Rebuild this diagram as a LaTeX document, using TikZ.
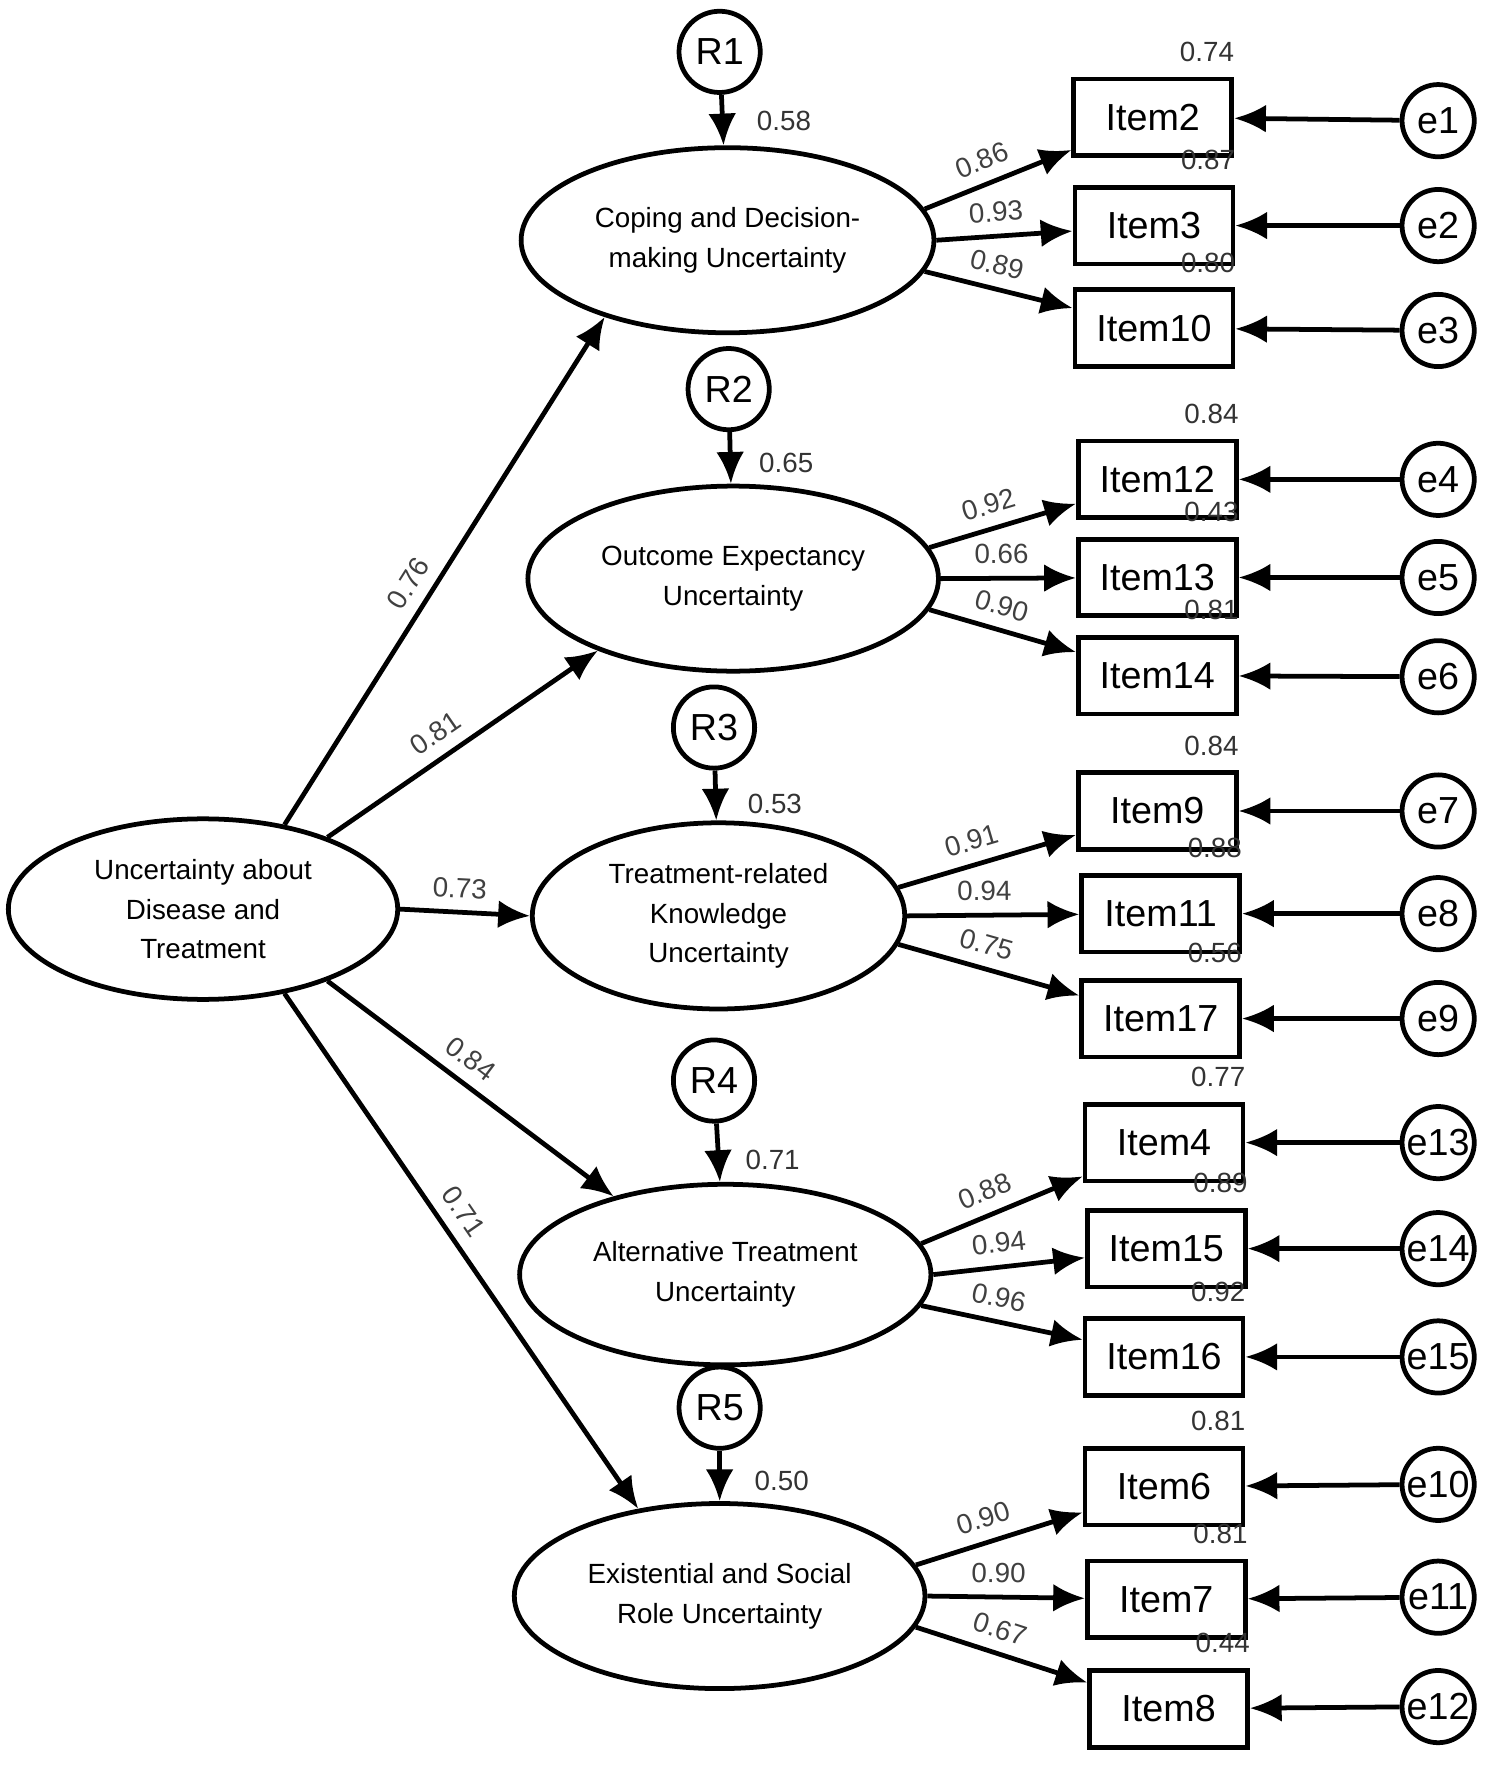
\documentclass[tikz,border=0pt]{standalone}
\usepackage{fontspec}
\setmainfont{Liberation Sans}
\usetikzlibrary{shapes.geometric,arrows.meta}
\begin{document}
\begin{tikzpicture}[x=0.01cm,y=-0.01cm,
 lat/.style={ellipse,draw,line width=1.2pt,minimum width=3.3cm,minimum height=1.64cm,align=center,font=\fontsize{7}{10}\selectfont},
 res/.style={circle,draw,line width=1.2pt,minimum size=0.72cm,inner sep=0pt,font=\fontsize{9.5}{12}\selectfont},
 err/.style={circle,draw,line width=1.2pt,minimum size=0.64cm,inner sep=0pt,font=\fontsize{9.5}{12}\selectfont},
 item/.style={rectangle,draw,line width=1.2pt,minimum width=1.4cm,minimum height=0.68cm,font=\fontsize{9.5}{12}\selectfont},
 arr/.style={-{Latex[length=8pt,width=7pt]},line width=1.2pt},
 lab/.style={font=\fontsize{7}{9}\selectfont,text=black!75,sloped,above,inner sep=3pt},
 num/.style={font=\fontsize{7}{9}\selectfont,text=black!80}]
\useasboundingbox (0,0) rectangle (1330,1571);
\node[lat,minimum width=3.45cm,minimum height=1.6cm] (U) at (180,806) {Uncertainty about\\Disease and\\Treatment};
\node[lat] (L1) at (645,213) {Coping and Decision-\\making Uncertainty};
\node[lat] (L2) at (650,513) {Outcome Expectancy\\Uncertainty};
\node[lat,minimum height=1.6cm] (L3) at (637,812) {Treatment-related\\Knowledge\\Uncertainty};
\node[lat,minimum width=3.36cm,minimum height=1.6cm] (L4) at (643,1130) {Alternative Treatment\\Uncertainty};
\node[lat] (L5) at (638,1415) {Existential and Social\\Role Uncertainty};
\foreach \i/\x/\y/\v/\lx/\ly in {1/638/46/0.58/695/107, 2/646/345/0.65/697/410, 3/633/645/0.53/687/713, 4/633/958/0.71/685/1028, 5/638/1248/0.50/693/1313}{
 \node[res] (R\i) at (\x,\y) {R\i};
 \draw[arr] (R\i) -- (L\i);
 \node[num] (rl\i) at (\lx,\ly) {\v};
}
\draw[arr] (U.46) -- node[lab,pos=0.45]{0.76} (L1.212);
\draw[arr] (U.30) -- node[lab,pos=0.45]{0.81} (L2.208);
\draw[arr] (U.east) -- node[lab,pos=0.45]{0.73} (L3.west);
\draw[arr] (U.-30) -- node[lab,pos=0.45]{0.84} (L4.145);
\draw[arr] (U.-46) -- node[lab,pos=0.45]{0.71} (L5.133);
\foreach \it/\x/\y/\e/\ey/\r/\L/\w/\a in {
 Item2/1022/104/e1/107/0.74/L1/0.86/9, Item3/1023/200/e2/200/0.87/L1/0.93/0, Item10/1023/291/e3/293/0.80/L1/0.89/-9,
 Item12/1026/425/e4/425/0.84/L2/0.92/9, Item13/1026/512/e5/512/0.43/L2/0.66/0, Item14/1026/599/e6/600/0.81/L2/0.90/-9,
 Item9/1026/719/e7/719/0.84/L3/0.91/9, Item11/1029/810/e8/810/0.88/L3/0.94/0, Item17/1029/903/e9/903/0.56/L3/0.75/-9,
 Item4/1032/1013/e13/1013/0.77/L4/0.88/9, Item15/1034/1107/e14/1107/0.89/L4/0.94/0, Item16/1032/1203/e15/1203/0.92/L4/0.96/-9,
 Item6/1032/1318/e10/1316/0.81/L5/0.90/9, Item7/1034/1418/e11/1416/0.81/L5/0.90/0, Item8/1036/1515/e12/1513/0.44/L5/0.67/-9}{
 \node[item] (\it) at (\x,\y) {\it};
 \node[err] (\e) at (1275,\ey) {\e};
 \draw[arr] (\e) -- (\it);
 \draw[arr] (\L.\a) -- node[lab,pos=0.45]{\w} (\it);
 \node[num] (r\it) at (\x+48,\y-58) {\r};
}
\end{tikzpicture}
\end{document}
